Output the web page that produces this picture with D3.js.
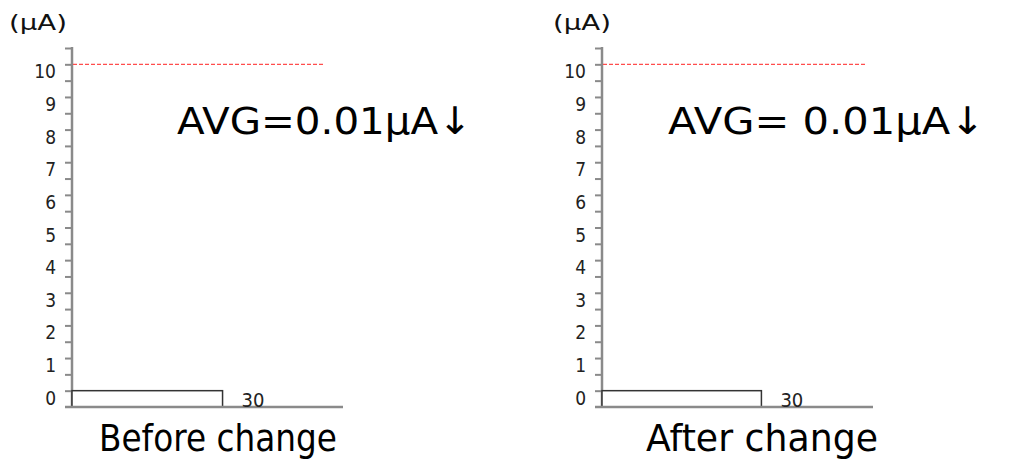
<!DOCTYPE html>
<html><head><meta charset="utf-8">
<script src="https://cdn.jsdelivr.net/npm/d3@7"></script>
<style>body{margin:0;background:#fff}svg{display:block}</style>
</head><body><svg id="c" width="1015" height="467"></svg>
<script>
// Data
const panels = ["Before change", "After change"];
const avgLabels = ["AVG=0.01μA↓", "AVG= 0.01μA↓"];
const binValues = [0, 0];        // bin (μA) of the single bar
const binCounts = [30, 30];      // count in that bin
const limitValue = [10, 10];     // red dashed limit line (μA)
const yTickLabels = [0,1,2,3,4,5,6,7,8,9,10];
const unitLabel = "(μA)";
const xMaxCounts = [54, 51];

// Layout (not data)
const layout = [
  {axisX:72, xEnd:343, unitX:9, limitEnd:325, avgX:177, avgW:295, titleX:218, titleW:238},
  {axisX:602, xEnd:873, unitX:553, limitEnd:865, avgX:668, avgW:317, titleX:762, titleW:232}
];
const yTop = 48, yBot = 407;

const svg = d3.select("#c");
const y = d3.scaleLinear().domain([-0.5, 10.5]).range([yBot, yTop]);
const tickFont = "'DejaVu Sans Condensed','Liberation Sans Narrow',sans-serif";

panels.forEach((name, i) => {
  const L = layout[i];
  const g = svg.append("g");
  const x = d3.scaleLinear().domain([0, xMaxCounts[i]]).range([L.axisX, L.xEnd]);

  // y axis with ticks every 0.5
  const yAxis = d3.axisLeft(y).tickValues(d3.range(0, 10.51, 0.5)).tickSize(7).tickFormat("");
  const ga = g.append("g").attr("transform", `translate(${L.axisX},0)`).call(yAxis);
  ga.select(".domain").remove();
  ga.selectAll(".tick line").attr("stroke", "#8a8a8a").attr("stroke-width", 2);
  g.append("line").attr("x1", L.axisX).attr("x2", L.axisX).attr("y1", yTop - 1).attr("y2", yBot + 1)
    .attr("stroke", "#8a8a8a").attr("stroke-width", 2.5);

  // tick labels
  g.selectAll("text.yl").data(yTickLabels).join("text")
    .attr("x", L.axisX - 16).attr("y", d => y(d) + 14)
    .attr("text-anchor", "end")
    .style("font-family", tickFont).style("font-size", "19px").attr("fill", "#222")
    .text(d => d);

  // bar
  g.append("rect")
    .attr("x", x(0)).attr("y", y(binValues[i]))
    .attr("width", x(binCounts[i]) - x(0))
    .attr("height", y(binValues[i] - 0.5) - y(binValues[i]))
    .attr("fill", "#fff").attr("stroke", "#333").attr("stroke-width", 1.5);

  // x axis baseline
  g.append("line").attr("x1", L.axisX - 7).attr("x2", L.xEnd).attr("y1", yBot).attr("y2", yBot)
    .attr("stroke", "#8a8a8a").attr("stroke-width", 2.5);

  // count label
  g.append("text").attr("x", x(binCounts[i]) + 19).attr("y", yBot - 0.5)
    .style("font-family", tickFont).style("font-size", "20px").attr("fill", "#222")
    .text(binCounts[i]);

  // limit line
  g.append("line").attr("x1", L.axisX + 1).attr("x2", L.limitEnd)
    .attr("y1", y(limitValue[i])).attr("y2", y(limitValue[i]))
    .attr("stroke", "#ff4d4d").attr("stroke-width", 1.2).attr("stroke-dasharray", "4,2");

  // unit
  g.append("text").attr("x", L.unitX).attr("y", 30)
    .style("font-family", "'DejaVu Sans',sans-serif").style("font-size", "21px").attr("fill", "#111")
    .attr("textLength", 58).attr("lengthAdjust", "spacingAndGlyphs")
    .text(unitLabel);

  // AVG text
  g.append("text").attr("x", L.avgX).attr("y", 134)
    .style("font-family", "'DejaVu Sans','Noto Sans',sans-serif").style("font-size", "38px").attr("fill", "#000")
    .attr("textLength", L.avgW).attr("lengthAdjust", "spacingAndGlyphs")
    .text(avgLabels[i]);

  // title
  g.append("text").attr("x", L.titleX - L.titleW / 2).attr("y", 451)
    .style("font-family", "'DejaVu Sans','Noto Sans',sans-serif").style("font-size", "38px").attr("fill", "#000")
    .attr("textLength", L.titleW).attr("lengthAdjust", "spacingAndGlyphs")
    .text(name);
});
</script></body></html>
